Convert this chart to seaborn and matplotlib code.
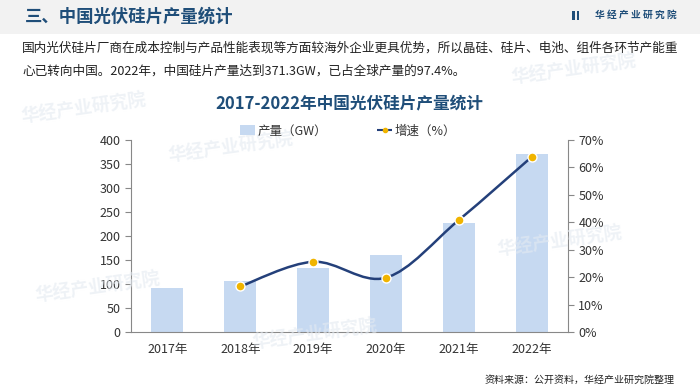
import matplotlib
matplotlib.use("Agg")
import matplotlib.pyplot as plt
import seaborn as sns
import numpy as np
import pandas as pd
from matplotlib.path import Path
from matplotlib.patches import PathPatch, Patch, Rectangle
from matplotlib.lines import Line2D

years = ["2017年", "2018年", "2019年", "2020年", "2021年", "2022年"]
output_gw = [91, 106, 133, 160, 227, 371.3]
growth_years = ["2018年", "2019年", "2020年", "2021年", "2022年"]
growth_pct = [16.6, 25.6, 19.8, 40.8, 63.8]
left_ticks = [0, 50, 100, 150, 200, 250, 300, 350, 400]
right_ticks = [0, 10, 20, 30, 40, 50, 60, 70]

header_title = "三、中国光伏硅片产量统计"
brand = "华经产业研究院"
brand_spaced = "华 经 产 业 研 究 院"
para1 = "国内光伏硅片厂商在成本控制与产品性能表现等方面较海外企业更具优势，所以晶硅、硅片、电池、组件各环节产能重"
para2 = "心已转向中国。2022年，中国硅片产量达到371.3GW，已占全球产量的97.4%。"
chart_title = "2017-2022年中国光伏硅片产量统计"
legend_bar = "产量（GW）"
legend_line = "增速（%）"
source = "资料来源：公开资料，华经产业研究院整理"

sns.set_style("white")
plt.rcParams["font.family"] = ["Noto Sans CJK SC", "DejaVu Sans"]

BAR = "#c6d9f1"
NAVY = "#24407a"
GOLD = "#f0b400"
TITLE = "#1f4e79"
GRAY = "#888888"
TXT = "#333333"

fig = plt.figure(figsize=(7, 3.89), dpi=100)
fig.patch.set_facecolor("white")

# header band
fig.patches.append(Rectangle((0, 1 - 34 / 389), 1, 34 / 389, transform=fig.transFigure,
                             facecolor="#f2f2f2", edgecolor="none", zorder=0))

# faint watermarks (kept inside the canvas)
for (wx, wy) in [(0.33, 0.62), (0.82, 0.82), (0.80, 0.38), (0.12, 0.72),
                 (0.14, 0.26), (0.45, 0.14)]:
    fig.text(wx, wy, brand, fontsize=13, color="#e4eaf1", alpha=0.6, rotation=8,
             ha="center", va="center", fontweight="bold", zorder=0)

fig.text(25 / 700, 1 - 17 / 389, header_title, fontsize=12.5, fontweight="bold",
         color=TITLE, ha="left", va="center")
fig.text(677 / 700, 1 - 15 / 389, brand_spaced, fontsize=7, fontweight="bold",
         color=TITLE, ha="right", va="center")
for bx in (572, 576.5):
    fig.patches.append(Rectangle((bx / 700, 1 - 20 / 389), 2.5 / 700, 9 / 389,
                                 transform=fig.transFigure, facecolor=TITLE,
                                 edgecolor="none", zorder=2))

fig.text(22 / 700, 1 - 48 / 389, para1, fontsize=9.1, color="#222222", ha="left", va="center")
fig.text(22 / 700, 1 - 71 / 389, para2, fontsize=9.1, color="#222222", ha="left", va="center")

fig.text(349 / 700, 1 - 103 / 389, chart_title, fontsize=12, fontweight="bold",
         color=TITLE, ha="center", va="center")

ax = fig.add_axes([131 / 700, 1 - 332 / 389, (568 - 131) / 700, (332 - 140) / 389])
ax.set_facecolor("none")
df = pd.DataFrame({"year": years, "output": output_gw})
sns.barplot(data=df, x="year", y="output", color=BAR, width=0.44, ax=ax,
            saturation=1, edgecolor="none", zorder=2)
ax.set_xlim(-0.5, len(years) - 0.5)
ax.set_ylim(0, 400)
ax.set_yticks(left_ticks)
ax.set_xlabel("")
ax.set_ylabel("")
ax.set_xticks(range(len(years)))
ax.set_xticklabels(years)
ax.set_xticks(np.arange(-0.5, len(years), 1.0), minor=True)
ax.tick_params(axis="x", which="major", length=0, labelsize=9, labelcolor=TXT, pad=8)
ax.tick_params(axis="x", which="minor", length=4, color=GRAY, direction="out")
ax.tick_params(axis="y", length=4, color=GRAY, direction="out", labelsize=9, labelcolor=TXT, left=True)
for s in ["top", "right"]:
    ax.spines[s].set_visible(False)
for s in ["left", "bottom"]:
    ax.spines[s].set_color(GRAY)
    ax.spines[s].set_linewidth(0.8)

ax2 = ax.twinx()
ax2.set_ylim(0, 70)
ax2.set_yticks(right_ticks)
ax2.set_yticklabels([f"{t}%" for t in right_ticks])
ax2.tick_params(axis="y", length=4, color=GRAY, direction="out", labelsize=9, labelcolor=TXT, right=True)
for s in ["top", "left", "bottom"]:
    ax2.spines[s].set_visible(False)
ax2.spines["right"].set_color(GRAY)
ax2.spines["right"].set_linewidth(0.8)

xs = np.array([years.index(y) for y in growth_years], dtype=float)
ys = np.array(growth_pct, dtype=float)
# smooth curve via Catmull-Rom -> cubic Bezier segments
P = np.column_stack([xs, ys])
Pext = np.vstack([P[0], P, P[-1]])
verts = [tuple(P[0])]
codes = [Path.MOVETO]
for i in range(len(P) - 1):
    p0, p1, p2, p3 = Pext[i], Pext[i + 1], Pext[i + 2], Pext[i + 3]
    c1 = p1 + (p2 - p0) / 6.0
    c2 = p2 - (p3 - p1) / 6.0
    verts += [tuple(c1), tuple(c2), tuple(p2)]
    codes += [Path.CURVE4] * 3
ax2.add_patch(PathPatch(Path(verts, codes), facecolor="none", edgecolor=NAVY, lw=1.8, zorder=3))
gdf = pd.DataFrame({"x": xs, "g": ys})
sns.scatterplot(data=gdf, x="x", y="g", ax=ax2, color=GOLD, s=42, edgecolor="white",
                linewidth=1.0, zorder=4, legend=False)
ax2.set_xlabel("")
ax2.set_ylabel("")
ax2.set_xlim(-0.5, len(years) - 0.5)

handles = [Patch(facecolor=BAR, edgecolor="none"),
           Line2D([], [], color=NAVY, lw=1.5, ls="--", marker="o", markersize=3,
                  markerfacecolor=GOLD, markeredgecolor=GOLD)]
fig.legend(handles, [legend_bar, legend_line], loc="center", ncol=2,
           bbox_to_anchor=(348 / 700, 1 - 131 / 389), frameon=False, fontsize=9,
           handlelength=1.2, handleheight=0.8, columnspacing=4.0, handletextpad=0.2,
           labelcolor=TXT)

fig.text(675 / 700, 1 - 380 / 389, source, fontsize=7.2, color="#222222",
         ha="right", va="center")

fig.savefig("out.png", dpi=100)
